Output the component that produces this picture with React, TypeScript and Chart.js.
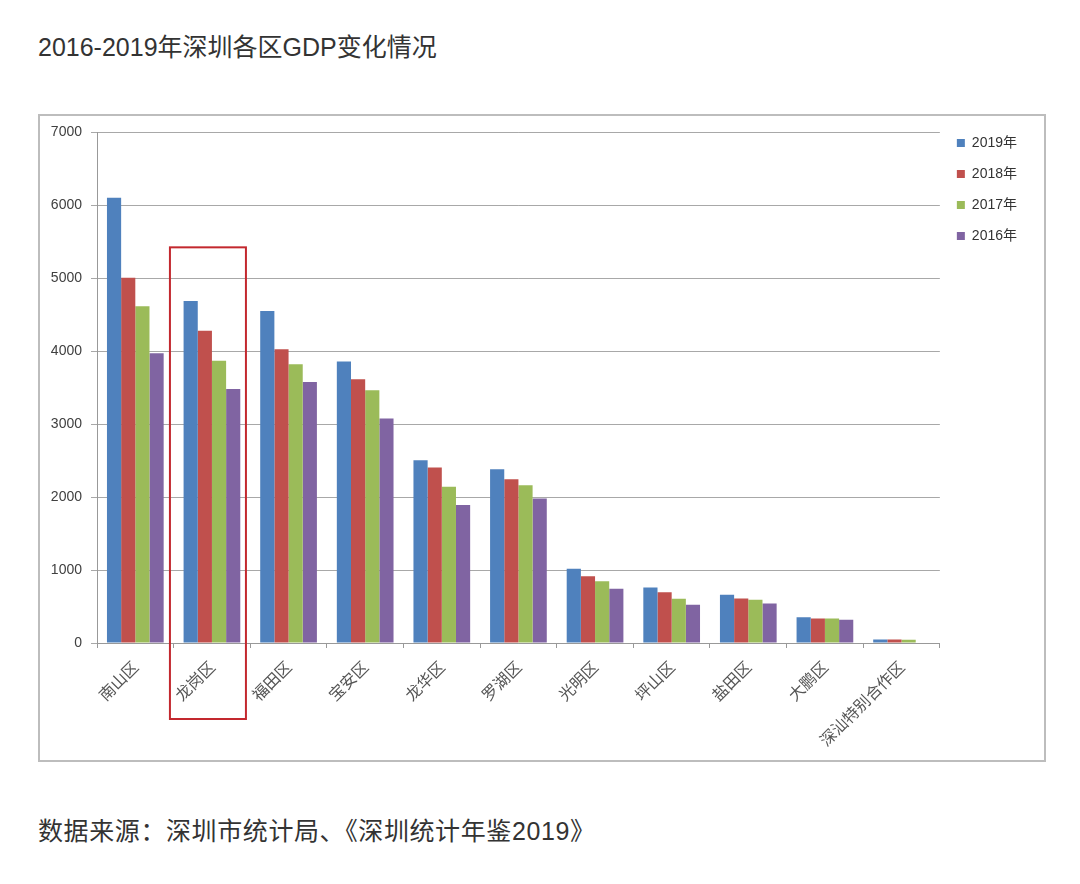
import React, { useEffect, useRef } from "react";
import { Chart, registerables } from "chart.js";

Chart.register(...registerables);

const categories = ["南山区", "龙岗区", "福田区", "宝安区", "龙华区", "罗湖区", "光明区", "坪山区", "盐田区", "大鹏区", "深汕特别合作区"];
const gdp2019 = [6100, 4685, 4548, 3855, 2503, 2379, 1016, 760, 660, 354, 48];
const gdp2018 = [5003, 4277, 4023, 3612, 2403, 2242, 915, 696, 610, 336, 48];
const gdp2017 = [4614, 3866, 3818, 3462, 2142, 2160, 847, 605, 592, 336, 44];
const gdp2016 = [3970, 3479, 3575, 3074, 1890, 1978, 742, 523, 541, 318, null];
const seriesLabels = ["2019年", "2018年", "2017年", "2016年"];
const yTicks = [0, 1000, 2000, 3000, 4000, 5000, 6000, 7000];

const highlightPlugin = {
  id: "highlightBox",
  afterDraw(chart: any) {
    const x = chart.scales.x;
    const y = chart.scales.y;
    const cx = x.getPixelForValue(1);
    const left = cx - 42;
    const right = cx + 34;
    const top = y.getPixelForValue(5420);
    const bottom = chart.chartArea.bottom + 76;
    const ctx = chart.ctx;
    ctx.save();
    ctx.strokeStyle = "#c3282e";
    ctx.lineWidth = 2;
    ctx.strokeRect(left, top, right - left, bottom - top);
    ctx.restore();
  },
};

export default function App() {
  const ref = useRef<HTMLCanvasElement>(null);
  useEffect(() => {
    if (!ref.current) return;
    const chart = new Chart(ref.current, {
      type: "bar",
      data: {
        labels: categories,
        datasets: [
          { label: seriesLabels[0], data: gdp2019, backgroundColor: "#4F81BD" },
          { label: seriesLabels[1], data: gdp2018, backgroundColor: "#C0504D" },
          { label: seriesLabels[2], data: gdp2017, backgroundColor: "#9BBB59" },
          { label: seriesLabels[3], data: gdp2016 as any, backgroundColor: "#8064A2" },
        ],
      },
      options: {
        animation: false,
        responsive: false,
        maintainAspectRatio: false,
        datasets: { bar: { categoryPercentage: 0.74, barPercentage: 1.0 } } as any,
        layout: { padding: { top: 3, right: 17, left: 0, bottom: 0 } },
        plugins: {
          title: { display: false },
          tooltip: { enabled: false },
          legend: {
            position: "right",
            align: "start",
            labels: {
              boxWidth: 8,
              boxHeight: 8,
              padding: 17,
              color: "#333333",
              font: { family: "'Liberation Sans', 'Noto Sans CJK SC', sans-serif", size: 14 },
            },
          },
        },
        scales: {
          x: {
            grid: {
              offset: true,
              drawOnChartArea: false,
              drawTicks: true,
              tickLength: 5,
              color: "#999999",
            },
            border: { color: "#999999", width: 1 },
            ticks: {
              autoSkip: false,
              maxRotation: 45,
              minRotation: 45,
              padding: 9,
              color: "#555555",
              font: { family: "'Noto Sans CJK SC', sans-serif", size: 16 },
            },
            afterFit(scale: any) {
              scale.height = 117;
            },
          },
          y: {
            min: 0,
            max: 7000,
            afterBuildTicks(scale: any) {
              scale.ticks = yTicks.map((v) => ({ value: v }));
            },
            grid: {
              color: "#a8a8a8",
              tickLength: 6,
              drawTicks: true,
            },
            border: { color: "#999999", width: 1 },
            ticks: {
              padding: 9,
              color: "#404040",
              font: { family: "'Liberation Sans', sans-serif", size: 14 },
              callback: (v: any) => String(v),
            },
            afterFit(scale: any) {
              scale.width = 57;
              scale.paddingTop = 16;
            },
          },
        },
      },
      plugins: [highlightPlugin],
    });
    return () => chart.destroy();
  }, []);

  const textFont = "'Liberation Sans', 'Noto Sans CJK SC', sans-serif";
  return (
    <div style={{ position: "absolute", left: 0, top: 0, width: 1080, height: 884, background: "#ffffff" }}>
      <div
        style={{
          position: "absolute",
          left: 38,
          top: 31,
          fontFamily: textFont,
          fontSize: 25,
          color: "#333333",
          whiteSpace: "nowrap",
          lineHeight: "32px",
        }}
      >
        2016-2019年深圳各区GDP变化情况
      </div>
      <div
        style={{
          position: "absolute",
          left: 38,
          top: 114,
          width: 1004,
          height: 644,
          border: "2px solid #bdbdbd",
        }}
      >
        <canvas ref={ref} width={1004} height={644} style={{ display: "block", width: 1004, height: 644 }} />
      </div>
      <div
        style={{
          position: "absolute",
          left: 38,
          top: 815,
          fontFamily: textFont,
          fontSize: 25,
          letterSpacing: "0.6px",
          color: "#333333",
          whiteSpace: "nowrap",
          lineHeight: "32px",
        }}
      >
        数据来源：深圳市统计局、《深圳统计年鉴2019》
      </div>
    </div>
  );
}
